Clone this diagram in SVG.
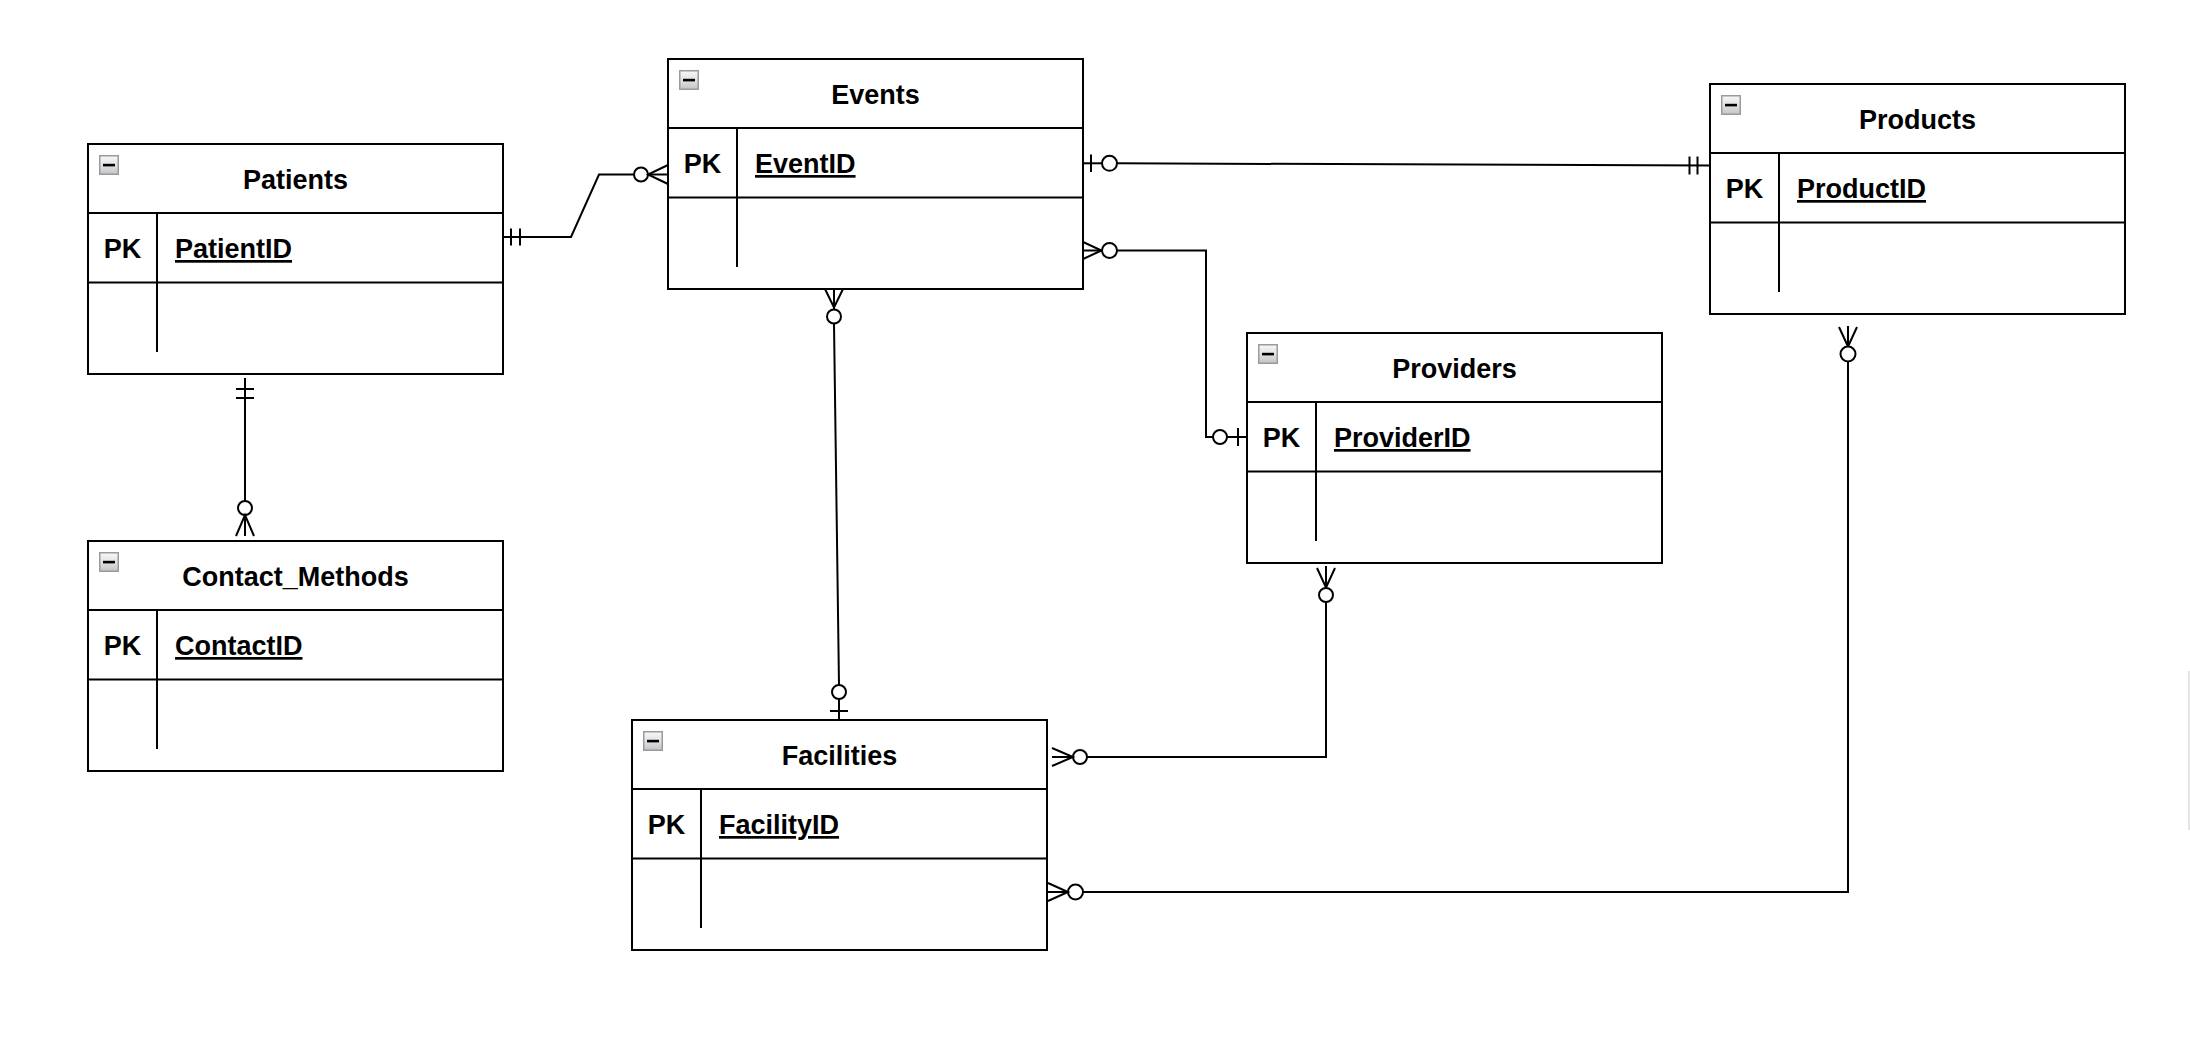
<svg xmlns="http://www.w3.org/2000/svg" xmlns:xlink="http://www.w3.org/1999/xlink" width="2190" height="1062" viewBox="0 0 2190 1062">
<style>
.box{fill:#fff;stroke:#000;stroke-width:2}
.ln{fill:none;stroke:#000;stroke-width:2}
.title{font-family:"Liberation Sans",Arial,Helvetica,sans-serif;font-weight:bold;font-size:27px;text-anchor:middle;fill:#000}
.pk{font-family:"Liberation Sans",Arial,Helvetica,sans-serif;font-weight:bold;font-size:27px;text-anchor:middle;fill:#000}
.fld{font-family:"Liberation Sans",Arial,Helvetica,sans-serif;font-weight:bold;font-size:27px;fill:#000;text-decoration:underline}
.c{fill:none;stroke:#000;stroke-width:2;stroke-linejoin:miter}
.o{fill:#fff;stroke:#000;stroke-width:2}
</style>
<defs>
<linearGradient id="ig" x1="0" y1="0" x2="0" y2="1">
<stop offset="0" stop-color="#f7f7f7"/>
<stop offset="0.5" stop-color="#e2e2e2"/>
<stop offset="1" stop-color="#c4c4c4"/>
</linearGradient>
<g id="icon">
<rect x="0.75" y="0.75" width="18.5" height="18.5" fill="url(#ig)" stroke="#9a9aa2" stroke-width="1.5"/>
<rect x="4" y="8.8" width="12" height="2.6" fill="#000"/>
</g>
<g id="entity">
<rect class="box" x="0" y="0" width="415" height="230"/>
<line class="ln" x1="0" y1="69" x2="415" y2="69"/>
<line class="ln" x1="0" y1="138.5" x2="415" y2="138.5"/>
<line class="ln" x1="69" y1="69" x2="69" y2="208"/>
<use xlink:href="#icon" x="11" y="11"/>
</g>
</defs>
<rect x="0" y="0" width="2190" height="1062" fill="#fff"/>
<line x1="2189" y1="671" x2="2189" y2="830" stroke="#e4e4e4" stroke-width="2"/>

<g id="connectors">
<!-- Patients to Events -->
<polyline class="c" points="503,237 571,237 599,174.5 634,174.5"/>
<line class="c" x1="511" y1="228.5" x2="511" y2="245.5"/>
<line class="c" x1="520" y1="228.5" x2="520" y2="245.5"/>
<circle class="o" cx="641" cy="174.5" r="7"/>
<polyline class="c" points="668,165 648,174.5 668,184"/>
<line class="c" x1="648" y1="174.5" x2="668" y2="174.5"/>

<!-- Patients to Contact_Methods -->
<line class="c" x1="245" y1="378" x2="245" y2="501"/>
<line class="c" x1="236" y1="389" x2="254" y2="389"/>
<line class="c" x1="236" y1="398" x2="254" y2="398"/>
<circle class="o" cx="245" cy="508" r="7"/>
<polyline class="c" points="236,536 245,515 254,536"/>
<line class="c" x1="245" y1="515" x2="245" y2="536"/>

<!-- Events to Products -->
<line class="c" x1="1082" y1="163.3" x2="1102" y2="163.3"/>
<line class="c" x1="1091" y1="154.5" x2="1091" y2="172"/>
<circle class="o" cx="1109.5" cy="163.3" r="7.5"/>
<line class="c" x1="1117" y1="163.3" x2="1710" y2="165.5"/>
<line class="c" x1="1689.5" y1="156.5" x2="1689.5" y2="174.5"/>
<line class="c" x1="1697.5" y1="156.5" x2="1697.5" y2="174.5"/>

<!-- Events to Providers -->
<polyline class="c" points="1082,241.5 1101.5,250.5 1082,259.5"/>
<line class="c" x1="1082" y1="250.5" x2="1102" y2="250.5"/>
<circle class="o" cx="1109.5" cy="250.5" r="7.5"/>
<polyline class="c" points="1117,250.5 1206,250.5 1206,437 1213,437"/>
<circle class="o" cx="1220" cy="437" r="7"/>
<line class="c" x1="1227" y1="437" x2="1247" y2="437"/>
<line class="c" x1="1238" y1="428" x2="1238" y2="446"/>

<!-- Events to Facilities -->
<polyline class="c" points="825,289 834,307.5 843,289"/>
<line class="c" x1="834" y1="289" x2="834" y2="309.5"/>
<circle class="o" cx="834" cy="316.5" r="7"/>
<line class="c" x1="834" y1="323.5" x2="839" y2="685"/>
<circle class="o" cx="839" cy="692" r="7"/>
<line class="c" x1="839" y1="699" x2="839" y2="720"/>
<line class="c" x1="830" y1="711" x2="848" y2="711"/>

<!-- Providers to Facilities -->
<polyline class="c" points="1317,568 1326,587.5 1335,568"/>
<line class="c" x1="1326" y1="566" x2="1326" y2="588"/>
<circle class="o" cx="1326" cy="595" r="7"/>
<polyline class="c" points="1326,602 1326,757 1087,757"/>
<circle class="o" cx="1080" cy="757" r="7"/>
<polyline class="c" points="1052,748 1073,757 1052,766"/>
<line class="c" x1="1052" y1="757" x2="1073" y2="757"/>

<!-- Products to Facilities -->
<polyline class="c" points="1839,327 1848,346.5 1857,327"/>
<line class="c" x1="1848" y1="326" x2="1848" y2="346.5"/>
<circle class="o" cx="1848" cy="354" r="7.5"/>
<polyline class="c" points="1848,361.5 1848,892 1083,892"/>
<circle class="o" cx="1075.5" cy="892" r="7.5"/>
<polyline class="c" points="1048,883 1068,892 1048,901"/>
<line class="c" x1="1048" y1="892" x2="1068" y2="892"/>
</g>

<g id="patients" transform="translate(88,144)">
<use xlink:href="#entity"/>
<text class="title" x="207.5" y="45">Patients</text>
<text class="pk" x="34.5" y="114">PK</text>
<text class="fld" x="87" y="114">PatientID</text>
</g>

<g id="events" transform="translate(668,59)">
<use xlink:href="#entity"/>
<text class="title" x="207.5" y="45">Events</text>
<text class="pk" x="34.5" y="114">PK</text>
<text class="fld" x="87" y="114">EventID</text>
</g>

<g id="products" transform="translate(1710,84)">
<use xlink:href="#entity"/>
<text class="title" x="207.5" y="45">Products</text>
<text class="pk" x="34.5" y="114">PK</text>
<text class="fld" x="87" y="114">ProductID</text>
</g>

<g id="providers" transform="translate(1247,333)">
<use xlink:href="#entity"/>
<text class="title" x="207.5" y="45">Providers</text>
<text class="pk" x="34.5" y="114">PK</text>
<text class="fld" x="87" y="114">ProviderID</text>
</g>

<g id="contact_methods" transform="translate(88,541)">
<use xlink:href="#entity"/>
<text class="title" x="207.5" y="45">Contact_Methods</text>
<text class="pk" x="34.5" y="114">PK</text>
<text class="fld" x="87" y="114">ContactID</text>
</g>

<g id="facilities" transform="translate(632,720)">
<use xlink:href="#entity"/>
<text class="title" x="207.5" y="45">Facilities</text>
<text class="pk" x="34.5" y="114">PK</text>
<text class="fld" x="87" y="114">FacilityID</text>
</g>
</svg>
